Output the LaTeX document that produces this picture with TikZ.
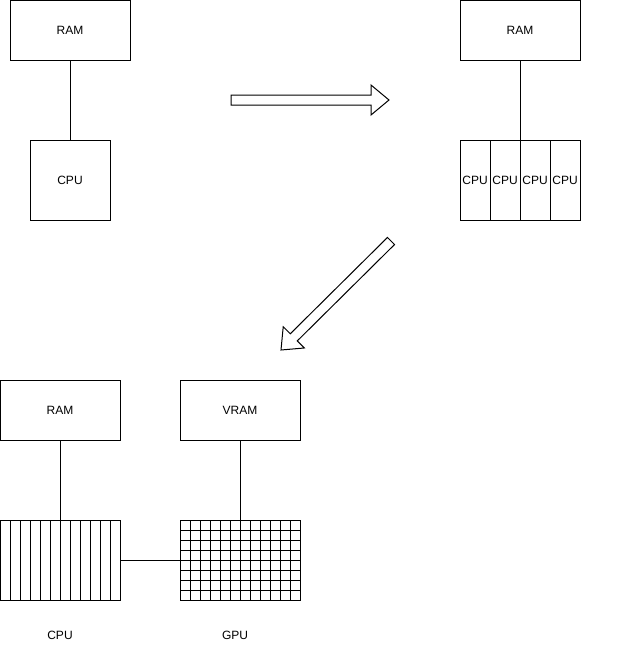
\documentclass[tikz,border=0pt]{standalone}
\usepackage{fontspec}
\setmainfont{Liberation Sans}
\begin{document}
\begin{tikzpicture}[x=1pt,y=-1pt,line width=1pt,
  lbl/.style={font=\fontsize{12}{14}\selectfont,inner sep=0pt},
  box/.style={lbl,draw,minimum width=120pt,minimum height=60pt},
  cpubox/.style={lbl,draw,minimum width=80pt,minimum height=80pt},
  corebox/.style={lbl,draw,minimum width=30pt,minimum height=80pt},
  gridbox/.style={draw,minimum width=120pt,minimum height=80pt,inner sep=0pt},
  bigarrow/.style={draw,line join=miter,fill=white}]
\useasboundingbox (0,0) rectangle (641,651);
% top left
\node[box] (ramA) at (70,30) {RAM};
\node[cpubox] (cpuA) at (70,180) {CPU};
\draw (ramA) -- (cpuA);
% right arrow
\draw[bigarrow] (231,95) -- (371,95) -- (371,85) -- (389,100) -- (371,115) -- (371,105) -- (231,105) -- cycle;
% top right
\node[box] (ramB) at (520,30) {RAM};
\node[corebox] (coreA) at (475,180) {CPU};
\node[corebox] (coreB) at (505,180) {CPU};
\node[corebox] (coreC) at (535,180) {CPU};
\node[corebox] (coreD) at (565,180) {CPU};
\draw (ramB.south) -- (ramB.south |- coreB.north east);
% diagonal arrow
\draw[bigarrow] (387.48,237.45) -- (394.52,244.55) -- (297.30,340.88) -- (304.34,347.98) -- (281,350) -- (283.22,326.68) -- (290.26,333.78) -- cycle;
% bottom
\node[box] (ramC) at (60,410) {RAM};
\node[box] (vram) at (240,410) {VRAM};
\node[gridbox] (cpugrid) at (60,560) {};
\foreach \i in {1,...,11} \draw (10*\i,520) -- (10*\i,600);
\node[gridbox] (gpugrid) at (240,560) {};
\foreach \i in {1,...,11} \draw (180+10*\i,520) -- (180+10*\i,600);
\foreach \j in {1,...,7} \draw (180,520+10*\j) -- (300,520+10*\j);
\draw (ramC) -- (cpugrid);
\draw (vram) -- (gpugrid);
\draw (cpugrid) -- (gpugrid);
\node[lbl] (cpulbl) at (60,635) {CPU};
\node[lbl] (gpulbl) at (235,635) {GPU};
\end{tikzpicture}
\end{document}
